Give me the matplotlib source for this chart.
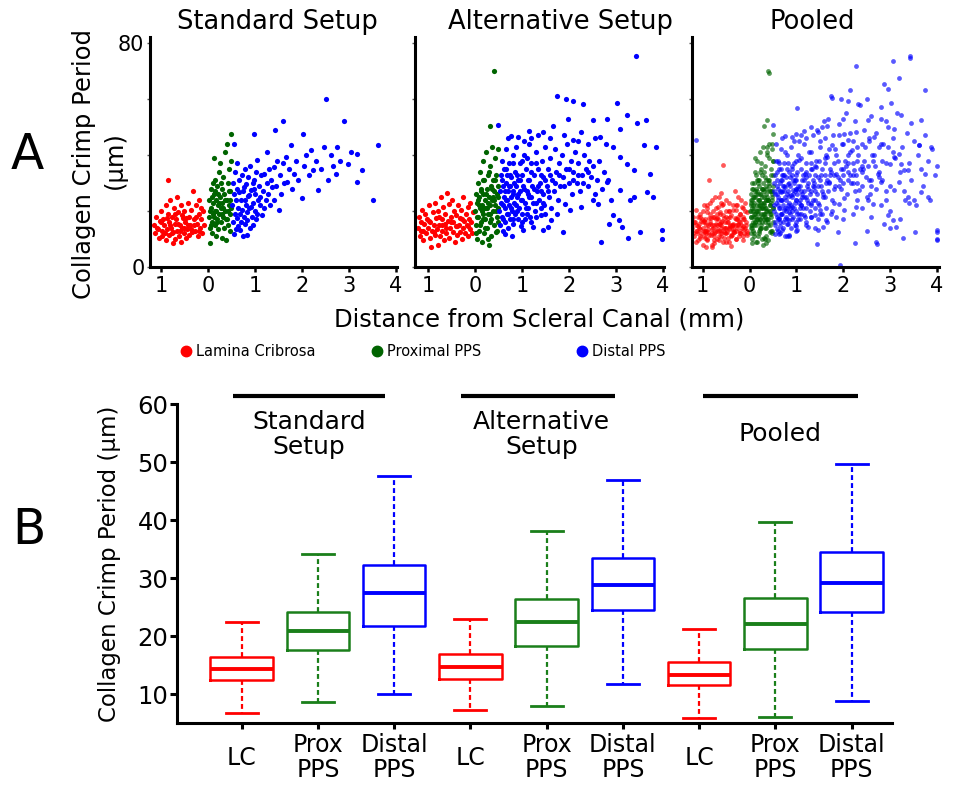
import numpy as np
import matplotlib
matplotlib.use('Agg')
import matplotlib.pyplot as plt
from matplotlib.lines import Line2D

plt.rcParams['font.family'] = ['DejaVu Sans']

# ---------------- Panel A data: (distance mm, crimp period um) ----------------
std_lc = [(-1.15,15),(-1.12,12),(-1.1,18),(-1.08,14),(-1.05,10.5),(-1.03,16.5),(-1.0,20),(-0.98,13),
          (-0.97,11),(-0.95,17),(-0.93,15),(-0.9,22),(-0.9,9.5),(-0.88,13.5),(-0.86,31),(-0.85,19),
          (-0.84,16),(-0.82,11.5),(-0.8,24),(-0.79,14),(-0.77,18),(-0.75,8.5),(-0.74,12.5),(-0.72,21),
          (-0.71,15.5),(-0.7,10),(-0.68,17),(-0.66,13),(-0.65,25),(-0.63,19.5),(-0.62,11),(-0.6,15),
          (-0.58,22),(-0.57,9),(-0.55,14),(-0.54,17.5),(-0.52,12),(-0.5,20),(-0.48,16),(-0.47,10.5),
          (-0.45,13.5),(-0.43,23),(-0.41,18),(-0.4,11.5),(-0.38,15),(-0.36,20.5),(-0.34,12.5),(-0.32,27),
          (-0.3,17),(-0.28,13),(-0.26,22),(-0.24,15.5),(-0.22,11),(-0.2,19),(-0.18,24),(-0.16,14),
          (-0.14,17),(-0.12,12),(-0.1,20),(-0.08,15),(-1.06,13.5),(-1.0,16),(-0.92,12),(-0.87,17.5),
          (-0.8,15),(-0.76,12),(-0.7,19),(-0.64,15.5),(-0.6,13),(-0.56,18.5),(-0.5,14),(-0.46,17.5),
          (-0.42,15),(-0.36,13.5),(-0.3,15),(-0.25,18),(-0.2,13),(-0.14,21)]
std_prox = [(0.02,18),(0.03,24),(0.04,14),(0.05,8.6),(0.06,21),(0.07,28),(0.08,16),(0.09,12),(0.1,23),
            (0.11,19),(0.12,39),(0.13,26),(0.14,15),(0.15,31),(0.16,20),(0.17,11),(0.18,24),(0.19,17),
            (0.2,29),(0.21,22),(0.22,13.5),(0.23,34),(0.24,19),(0.25,37),(0.26,25),(0.27,16),(0.28,21),
            (0.29,28),(0.3,10.5),(0.31,23),(0.32,18),(0.33,32),(0.34,14),(0.35,26),(0.36,20),(0.37,41),
            (0.38,17),(0.39,9.8),(0.4,24),(0.41,44),(0.42,30),(0.43,15),(0.44,22),(0.45,35),(0.46,19),
            (0.47,27),(0.48,13),(0.49,38),(0.5,47.6),(0.5,21),(0.04,20),(0.08,25),(0.12,18),(0.16,27),
            (0.2,16),(0.24,23),(0.28,30),(0.32,21),(0.36,24),(0.4,17),(0.44,27),(0.48,24),(0.06,15),
            (0.18,20),(0.3,19),(0.42,20),(0.1,30),(0.22,26)]
std_distal = [(0.52,22),(0.53,30),(0.54,16),(0.55,11.9),(0.55,26),(0.56,44),(0.57,19),(0.58,34),(0.59,13.5),
              (0.6,24),(0.61,28),(0.62,17.5),(0.63,37),(0.64,21),(0.65,14.5),(0.66,26.8),(0.67,31),(0.68,19),
              (0.69,13.1),(0.7,23.8),(0.71,16),(0.72,33),(0.73,20.2),(0.74,27),(0.75,11),(0.76,28.6),(0.77,18),
              (0.78,24),(0.79,35),(0.8,15.5),(0.81,22),(0.82,29.5),(0.83,19.5),(0.84,11.3),(0.84,16.7),
              (0.85,25.5),(0.86,32),(0.87,21),(0.88,25.6),(0.89,14),(0.9,36),(0.91,21.4),(0.92,27.5),(0.93,18),
              (0.95,30),(0.96,23),(0.97,15),(0.98,28),(0.98,31),(0.98,47.3),(1.0,20),(1.01,26),(1.02,34),
              (1.03,17),(1.05,19),(1.05,38.1),(1.07,24),(1.08,29),(1.1,22),(1.12,25),(1.13,33),(1.15,18.5),
              (1.17,27),(1.19,33.3),(1.2,21),(1.23,23.8),(1.25,30),(1.26,41.1),(1.28,26),(1.3,35),(1.32,22),
              (1.35,31),(1.37,28.6),(1.4,24),(1.41,35.7),(1.43,48.8),(1.45,29),(1.48,38),(1.51,20.2),(1.53,33),
              (1.56,26),(1.59,52.1),(1.6,37),(1.63,30),(1.66,39.3),(1.69,30.4),(1.72,35),(1.76,43.5),(1.8,28),
              (1.84,33.3),(1.88,38),(1.93,31),(2.01,24.8),(2.02,47.6),(2.05,36),(2.1,40),(2.15,33),(2.19,41.7),
              (2.23,34.5),(2.3,38),(2.34,27.6),(2.41,35.1),(2.47,43),(2.51,59.9),(2.55,31),(2.62,39.9),
              (2.67,36),(2.74,33.3),(2.76,42.9),(2.82,38),(2.91,52.1),(2.99,36.9),(3.05,41),(3.18,40.5),
              (3.18,30.4),(3.29,34.8),(3.51,23.8),(3.62,43.7)]

alt_lc = [(-1.22,14),(-1.2,18),(-1.18,11),(-1.16,16),(-1.14,20.5),(-1.12,13),(-1.1,9.5),(-1.08,15.5),
          (-1.06,19),(-1.04,12),(-1.02,17),(-1.0,14),(-0.98,22),(-0.96,10.5),(-0.95,16),(-0.93,7),
          (-0.92,13),(-0.9,19.5),(-0.88,15),(-0.86,11.5),(-0.85,23),(-0.83,17.5),(-0.81,13.5),(-0.8,8),
          (-0.78,20),(-0.76,15),(-0.75,11),(-0.73,25),(-0.71,17),(-0.7,13),(-0.68,21.5),(-0.66,9.5),
          (-0.65,15.5),(-0.63,19),(-0.61,12),(-0.6,26.5),(-0.58,16.5),(-0.56,22.5),(-0.55,10.5),(-0.53,14),
          (-0.51,18),(-0.5,24),(-0.48,12.5),(-0.46,16),(-0.45,20),(-0.43,9),(-0.41,14.5),(-0.4,18.5),
          (-0.38,11.5),(-0.36,22),(-0.35,15),(-0.33,12.5),(-0.31,17.5),(-0.3,20.5),(-0.28,10),(-0.26,14),
          (-0.25,25),(-0.23,16.5),(-0.21,12),(-0.2,19),(-0.18,15),(-0.16,21.5),(-0.15,11),(-0.13,17),
          (-0.11,13.5),(-0.1,23),(-0.08,16),(-0.06,12),(-0.05,19.5),(-1.15,13),(-0.98,16.5),(-0.88,12.5),
          (-0.76,18),(-0.62,14),(-0.52,16),(-0.38,14.5),(-0.27,17),(-0.14,14.5),(-0.7,15)]
alt_prox = [(0.01,20),(0.02,26),(0.03,15),(0.04,23),(0.05,10),(0.06,30),(0.07,18),(0.08,13),(0.09,25),
            (0.1,21),(0.11,34),(0.12,16),(0.13,28),(0.14,9),(0.15,22),(0.16,38),(0.17,19),(0.18,26),
            (0.19,12),(0.2,31),(0.21,24),(0.22,17),(0.23,41),(0.24,21),(0.25,14),(0.26,28),(0.27,33),
            (0.28,19),(0.29,8),(0.3,25),(0.31,50.2),(0.31,22),(0.32,36),(0.33,16),(0.34,29),(0.35,11),
            (0.36,24),(0.37,43),(0.38,20),(0.39,31),(0.4,70),(0.4,15),(0.41,27),(0.42,39),(0.43,22),
            (0.44,12.5),(0.45,33),(0.46,18),(0.47,26),(0.48,42),(0.49,21),(0.5,29),(0.5,16),(0.04,18),
            (0.08,22),(0.12,27),(0.16,17),(0.2,21),(0.24,26),(0.28,23),(0.32,19),(0.36,28),(0.4,24),
            (0.44,20),(0.48,25),(0.1,15),(0.22,14),(0.34,17),(0.46,13),(0.06,24),(0.18,31),(0.3,34),
            (0.42,31),(0.14,20),(0.26,21),(0.38,25),(0.02,12),(0.27,10)]
alt_distal = [(0.52,20),(0.53,27),(0.54,15),(0.55,33),(0.56,23),(0.57,38),(0.58,18),(0.59,29),(0.6,13),
              (0.61,25),(0.62,35),(0.63,21),(0.64,16),(0.65,30),(0.66,42),(0.67,24),(0.68,19),(0.69,33),
              (0.7,27),(0.71,14),(0.72,22),(0.73,37),(0.74,29),(0.75,17),(0.76,25),(0.77,32),(0.78,20),
              (0.8,40),(0.81,27),(0.82,15.5),(0.83,23),(0.85,34),(0.86,19),(0.87,29),(0.88,43),(0.9,25),
              (0.91,17),(0.92,31),(0.94,21),(0.95,37),(0.96,27),(0.98,14.5),(0.99,24),(1.0,33),(1.01,19),
              (1.03,29),(1.04,40),(1.06,23),(1.07,17),(1.09,35),(1.1,27),(1.12,31),(1.13,21),(1.15,44),
              (1.16,25),(1.18,18),(1.2,37),(1.22,29),(1.24,23),(1.26,33),(1.28,20),(1.3,41),(1.32,27),
              (1.34,35),(1.36,24),(1.38,30),(1.4,18.5),(1.42,38),(1.44,26),(1.46,32),(1.48,22),(1.5,43),
              (1.53,29),(1.55,35),(1.57,25),(1.6,39),(1.62,21),(1.65,31),(1.68,27),(1.7,42),(1.73,34),
              (1.76,24),(1.79,37),(1.82,29),(1.85,40),(1.88,32),(1.91,22.5),(1.94,35),(1.97,44),(2.0,30),
              (2.04,38),(2.07,26),(2.1,34),(2.14,41),(2.17,30),(2.2,37),(2.24,27),(2.28,33),(2.32,40),
              (2.36,35),(2.4,29),(2.44,38),(2.48,32),(2.52,36),(2.56,26),(2.6,31),(2.64,38),(2.7,28),
              (2.76,34),(2.83,31),(2.9,24),(1.2,46),(1.35,47),(1.6,46),(1.9,47),(2.2,45),(2.4,44),
              (1.05,45),(0.7,46),(2.55,46),(2.8,44),
              (0.6,22),(0.64,27),(0.68,24),(0.72,29),(0.76,21),(0.8,26),(0.84,30),(0.88,22),(0.92,26),
              (0.96,31),(1.0,24),(1.04,28),(1.08,21),(1.12,26),(1.16,31),(1.2,25),(1.25,28),(1.3,23),
              (1.35,29),(1.4,27),(1.45,23),(1.5,31),(1.55,27),(1.6,33),(1.7,30),(1.8,33),(1.9,29),(2.0,35),
              (2.1,31),(2.2,33),(2.3,30),(2.4,34),(0.58,31),(0.66,35),(0.74,33),(0.82,37),(0.9,33),(1.0,38),
              (1.1,39),(1.2,34),(1.3,37),(1.4,33),(0.6,17),(0.7,19),(0.8,17),(0.9,20),(1.0,16),(1.1,19),
              (1.2,16),(1.3,18),(1.4,21),(1.5,19),
              (3.43,75.3),(1.74,61.2),(1.95,60),(2.09,59.2),(2.31,58.3),(3.02,58.5),(3.24,54.1),(4.13,48.2),
              (4.27,39.8),(4.27,29.1),(4.2,26.4),(3.99,13.1),(3.99,10.1),(3.52,12.5),(2.69,8.9),(3.27,10.5),
              (1.88,12.5),(0.79,10.9),(3.66,26.8),(3.8,25),(3.74,33.3),(3.61,43.4),(3.86,42.8),(3.65,52.6),
              (3.45,51.4),(2.81,52.7),(2.52,52.3),(1.99,52.7),(1.16,48.5),(0.49,50.8),(3.09,49.3),(3.38,25),
              (3.31,23.8),(3.09,27.6),(2.95,18.4),(3.06,16.6),(3.13,14.3),(2.86,15.5),(3.38,34.5),(3.09,39.2),
              (3.24,36.9),(2.95,42.8),(2.66,46.4),(1.66,50.2),(1.45,48.2),(0.91,46.4),(0.76,46.6),(2.09,45.2),
              (2.27,48.2),(1.63,16.6),(1.45,13.1),(1.56,14.3),(1.24,14.3),(1.02,13.1),(0.63,11.9),(2.81,30.3),
              (2.52,23.8),(2.63,22.6),(2.27,21.4),(2.02,20.2),(1.74,19.0)]

# additional measurements that appear only in the pooled panel
pool_lc_extra = [(-1.2,12),(-1.15,9),(-1.1,14.5),(-1.05,11),(-1.0,8),(-0.95,13),(-0.9,10),(-0.85,15.5),
                 (-0.8,12),(-0.75,9.5),(-0.7,13.5),(-0.65,11),(-0.6,16),(-0.55,12.5),(-0.5,9),(-0.45,14),
                 (-0.4,11),(-0.35,13),(-0.3,10),(-0.25,15),(-0.2,12),(-0.15,9.5),(-0.1,14),(-0.05,11.5),
                 (-0.57,36.3),(-0.9,21),(-0.6,23),(-0.3,22),(-1.05,18),(-0.45,20),(-0.15,18),(-0.8,7),
                 (-0.4,7.5),(-1.18,16),(-0.7,17.5),(-0.2,16),(-0.5,12),(-0.95,12.5),(-0.35,15.5),(-0.05,13)]
pool_prox_extra = [(0.05,14),(0.08,20),(0.1,11),(0.12,25),(0.15,17),(0.18,30),(0.2,13),(0.22,22),(0.25,35),
                   (0.27,18),(0.3,27),(0.32,10),(0.35,21),(0.37,40),(0.4,16),(0.42,69.2),(0.42,29),(0.45,23),
                   (0.47,44),(0.38,52.6),(0.48,12),(0.5,33),(0.06,28),(0.14,33),(0.24,15),(0.28,43),(0.34,31),
                   (0.44,19),(0.49,38),(0.1,19),(0.2,24),(0.3,17),(0.4,24),(0.16,9),(0.36,8.5),(0.46,27),
                   (0.02,22),(0.26,28),(0.33,14),(0.12,16)]
pool_distal_extra = [(1.5,45),(1.55,50),(1.62,40),(1.68,53),(1.72,33),(1.78,47),(1.83,42),(1.9,51),(1.95,28),
                     (2.0,44),(2.05,55),(2.1,37),(2.15,48),(2.2,30),(2.25,52),(2.3,43),(2.35,58),(2.4,36),
                     (2.45,49),(2.5,25),(2.55,45),(2.6,54),(2.65,40),(2.7,48),(2.75,32),(2.8,57),(2.85,44),
                     (2.9,37),(2.95,50),(3.0,29),(3.05,46),(3.1,39),(3.15,55),(3.2,34),(3.25,43),(3.3,27),
                     (3.35,48),(3.4,37),(3.45,31),(3.5,45),(3.55,22),(3.6,40),(3.65,35),(3.7,29),(3.75,47),
                     (3.8,38),(3.85,24),(3.9,42),(3.95,33),(4.0,36),(4.1,41),(4.2,30),(4.3,44),(0.6,38),
                     (0.65,12),(0.75,41),(0.85,11),(0.95,45),(1.0,13),(1.1,47),(1.2,15),(1.3,50),(1.4,14),
                     (1.45,17),(1.55,19),(1.65,16),(1.75,20),(1.85,18),(2.0,17),(2.2,19),(2.4,21),(2.6,18),
                     (2.8,22),(3.0,20),(3.2,17),(3.4,23),(3.0,14),(2.5,13),(0.7,31),(0.9,35),(1.1,22),
                     (1.3,18),(0.58,26),(0.62,17),(0.8,21),(1.0,28),(1.2,32),(1.4,36),(1.6,25),(1.8,23),
                     (2.0,33),(2.3,24),(2.6,29),(2.9,27),
                     (3.42,74.7),(3.06,73.7),(2.26,71.9),(3.18,67.5),(2.14,63.3),(2.96,63.6),(3.74,63.3),
                     (1.75,60.4),(2.87,65.4),(1.01,56.8),(4.41,45.2),(4.47,49.3),(4.2,26.2),(3.99,9.5),
                     (3.99,12.5),(2.71,8.3),(1.43,8.3),(2.25,8.6),(-1.14,45.2),(1.93,0.8)]

pool_lc = std_lc + alt_lc + pool_lc_extra
pool_prox = std_prox + alt_prox + pool_prox_extra
pool_distal = std_distal + alt_distal + pool_distal_extra

panel_titles = ["Standard Setup", "Alternative Setup", "Pooled"]
region_names = ["Lamina Cribrosa", "Proximal PPS", "Distal PPS"]
a_xticks = [-1, 0, 1, 2, 3, 4]
a_xticklabels = ["1", "0", "1", "2", "3", "4"]
a_yticks = [0, 20, 40, 60, 80]

# ---------------- Panel B data ----------------
b_labels = ["LC", "Prox\nPPS", "Distal\nPPS"] * 3
b_groups = ["Standard\nSetup", "Alternative\nSetup", "Pooled"]
b_med = [14.3, 20.8, 27.5, 14.7, 22.4, 28.8, 13.3, 22.1, 29.1]
b_q1 = [12.5, 17.6, 21.8, 12.6, 18.3, 24.5, 11.5, 17.7, 24.2]
b_q3 = [16.4, 24.2, 32.3, 16.9, 26.4, 33.4, 15.5, 26.6, 34.5]
b_lo = [6.8, 8.6, 10.0, 7.2, 8.0, 11.7, 5.9, 6.1, 8.85]
b_hi = [22.5, 34.1, 47.6, 23.0, 38.1, 46.9, 21.2, 39.6, 49.7]

# ---------------- figure ----------------
W, H = 963, 791
fig = plt.figure(figsize=(W / 100, H / 100), dpi=100)
fx = lambda p: p / W
fy = lambda p: 1 - p / H

sc_colors = ['#ff0000', '#006400', '#0000ff']
box_colors = ['#ff0000', '#1a7f1a', '#0000ff']

a_boxes = [(150, 397, (-1.235, 4.03)), (415, 664, (-1.28, 4.03)), (691.7, 939, (-1.235, 4.04))]
a_data = [(std_lc, std_prox, std_distal), (alt_lc, alt_prox, alt_distal), (pool_lc, pool_prox, pool_distal)]
a_title_x = [277, 560, 812]
top_px, bot_px = 37, 267
for i, ((l, r, xl), groups) in enumerate(zip(a_boxes, a_data)):
    ax = fig.add_axes([fx(l), fy(bot_px), fx(r - l), (bot_px - top_px) / H])
    for g, col in zip(groups, sc_colors):
        arr = np.array(g)
        if i < 2:
            ax.scatter(arr[:, 0], arr[:, 1], s=14, c=col, linewidths=0)
        else:
            ax.scatter(arr[:, 0], arr[:, 1], s=12, c=col, linewidths=0, alpha=0.65)
    ax.set_xlim(*xl)
    ax.set_ylim(0, 82.1)
    for s in ['top', 'right']:
        ax.spines[s].set_visible(False)
    for s in ['left', 'bottom']:
        ax.spines[s].set_linewidth(2.2)
    ax.set_xticks(a_xticks)
    ax.set_xticklabels(a_xticklabels, fontsize=15)
    ax.set_yticks(a_yticks)
    if i == 0:
        ax.set_yticklabels(["0", "", "", "", "80"], fontsize=15)
    else:
        ax.set_yticklabels([])
    ax.tick_params(axis='x', length=3.6, width=1.8, pad=3)
    ax.tick_params(axis='y', length=2.5, width=1.0, pad=1.5, color='#555555')
    fig.text(fx(a_title_x[i]), fy(22), panel_titles[i], fontsize=18.5, ha='center', va='center')

fig.text(fx(84), fy(164), "Collagen Crimp Period", rotation=90, fontsize=17.5, ha='center', va='center')
fig.text(fx(115), fy(160), "(μm)", rotation=90, fontsize=17.5, ha='center', va='center')
fig.text(fx(539), fy(320), "Distance from Scleral Canal (mm)", fontsize=17.5, ha='center', va='center')
fig.text(fx(27.5), fy(155), "A", fontsize=35, ha='center', va='center')
fig.text(fx(29), fy(530), "B", fontsize=35, ha='center', va='center')

# legend row
leg_x = [179, 370, 575]
for name, col, lx in zip(region_names, sc_colors, leg_x):
    h = Line2D([], [], marker='o', linestyle='none', color=col, markersize=7.5)
    fig.legend([h], [name], loc='center left', bbox_to_anchor=(fx(lx), fy(352)), frameon=False,
               fontsize=10.5, handletextpad=0.15, borderpad=0, borderaxespad=0, handlelength=1.0)

# ---------------- Panel B ----------------
axb = fig.add_axes([fx(176.7), fy(723), fx(892 - 176.7), (723 - 404) / H])
positions = np.arange(1, 10)
stats = [dict(med=m, q1=a, q3=b, whislo=lo, whishi=hi, label=lab)
         for m, a, b, lo, hi, lab in zip(b_med, b_q1, b_q3, b_lo, b_hi, b_labels)]
res = axb.bxp(stats, positions=positions, widths=0.82, capwidths=0.42, showfliers=False)
for k in range(9):
    col = box_colors[k % 3]
    res['boxes'][k].set(color=col, linewidth=1.8)
    res['medians'][k].set(color=col, linewidth=2.8)
    for w in res['whiskers'][2 * k:2 * k + 2]:
        w.set(color=col, linewidth=1.6, linestyle=(0, (2.2, 1.4)))
    for c in res['caps'][2 * k:2 * k + 2]:
        c.set(color=col, linewidth=2.0)

axb.set_xlim(0.147, 9.53)
axb.set_ylim(5, 60)
axb.set_yticks([10, 20, 30, 40, 50, 60])
axb.tick_params(axis='y', labelsize=17.5, length=5, width=2.2, pad=1)
axb.set_xticks(positions)
axb.set_xticklabels(b_labels, fontsize=17, va='center', linespacing=1.05)
axb.tick_params(axis='x', length=4.5, width=2.2, pad=20.5)
for s in ['top', 'right']:
    axb.spines[s].set_visible(False)
for s in ['left', 'bottom']:
    axb.spines[s].set_linewidth(2.2)
axb.set_ylabel("Collagen Crimp Period (μm)", fontsize=16.5)
axb.yaxis.set_label_coords(-0.078, 0.5)

# group brackets and labels
bracket_x = [(0.886, 2.88), (3.88, 5.90), (7.05, 9.08)]
group_label_x = [1.88, 4.93, 8.06]
for (x0, x1), gx, gl in zip(bracket_x, group_label_x, b_groups):
    axb.plot([x0, x1], [61.4, 61.4], color='black', linewidth=3, clip_on=False, solid_capstyle='butt')
    axb.text(gx, 54.8, gl, fontsize=18, ha='center', va='center', linespacing=1.05)

fig.savefig("out.png", dpi=100)
